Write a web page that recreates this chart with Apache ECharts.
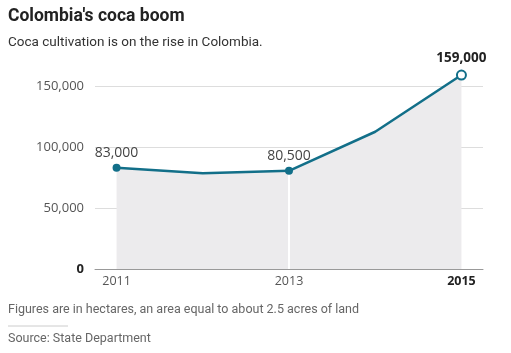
<!DOCTYPE html>
<html>
<head>
<meta charset="utf-8">
<script src="https://cdn.jsdelivr.net/npm/echarts@6/dist/echarts.min.js"></script>
<style>
  html, body { margin: 0; padding: 0; background: #fff; }
  #chart { width: 511px; height: 353px; }
</style>
</head>
<body>
<div id="chart"></div>
<script>
// 数据
const years = [2011, 2012, 2013, 2014, 2015];
const hectares = [83000, 78500, 80500, 112500, 159000];
const labelledYears = [2011, 2013, 2015];

const teal = '#126f89';
const font = 'Roboto, "Liberation Sans", sans-serif';
const numFont = '"Open Sans", Roboto, sans-serif';

let chart = echarts.init(document.getElementById('chart'));

function fmt(v) {
    return v.toLocaleString('en-US');
}

let points = years.map((y, i) => [y, hectares[i]]);

// 折线数据，只给标注年份加圆点和数值
let lineData = years.map((y, i) => {
    let item = { value: [y, hectares[i]] };
    let isLast = i === years.length - 1;
    if (labelledYears.indexOf(y) >= 0) {
        item.symbolSize = isLast ? 9 : 8;
        item.itemStyle = isLast
            ? { color: '#fff', borderColor: teal, borderWidth: 2 }
            : { color: teal, borderColor: teal, borderWidth: 0 };
        item.label = {
            show: true,
            position: 'top',
            distance: 4,
            formatter: fmt(hectares[i]),
            fontSize: isLast ? 13.5 : 14,
            fontFamily: numFont,
            fontWeight: isLast ? 'bold' : 'normal',
            color: isLast ? '#222' : '#444'
        };
    } else {
        item.symbolSize = 0;
    }
    return item;
});

// 2013 白色竖线
let i2013 = years.indexOf(2013);
let dropLine = [[2013, 0], [2013, hectares[i2013]]];

let option = {
    animation: false,
    grid: { left: 95, right: 28, top: 86, bottom: 84 },
    graphic: [
        { type: 'text', left: 8, top: 8, style: { text: "Colombia's coca boom", font: 'bold 17.5px ' + font, fill: '#222' } },
        { type: 'text', left: 8, top: 36, style: { text: 'Coca cultivation is on the rise in Colombia.', font: '13.5px ' + font, fill: '#333' } },
        { type: 'text', left: 8, top: 303, style: { text: 'Figures are in hectares, an area equal to about 2.5 acres of land', font: '12.5px ' + font, fill: '#666' } },
        { type: 'line', shape: { x1: 8, y1: 326, x2: 68, y2: 326 }, style: { stroke: '#ccc', lineWidth: 1 } },
        { type: 'text', left: 8, top: 332, style: { text: 'Source: State Department', font: '12.5px ' + font, fill: '#666' } }
    ],
    xAxis: {
        type: 'value',
        min: 2010.75,
        max: 2015.25,
        splitLine: { show: false },
        axisLine: { show: true, onZero: false, lineStyle: { color: '#999', width: 1 } },
        axisTick: { show: false },
        axisLabel: {
            customValues: labelledYears,
            margin: 6,
            fontSize: 12.5,
            fontFamily: numFont,
            color: '#555',
            formatter: v => v === 2015 ? '{b|' + v + '}' : String(v),
            rich: { b: { fontWeight: 'bold', color: '#222', fontSize: 12.5, fontFamily: numFont } }
        }
    },
    yAxis: {
        type: 'value',
        min: 0,
        max: 150000,
        interval: 50000,
        axisLine: { show: false },
        axisTick: { show: false },
        splitLine: { lineStyle: { color: '#ddd', width: 1 } },
        axisLabel: {
            margin: 11,
            fontSize: 13,
            fontFamily: numFont,
            color: '#555',
            formatter: v => v === 0 ? '{b|0}' : fmt(v),
            rich: { b: { fontWeight: 'bold', color: '#222', fontSize: 13, fontFamily: numFont } }
        }
    },
    series: [
        {
            // 面积
            type: 'line',
            data: points,
            clip: false,
            symbol: 'none',
            lineStyle: { width: 0 },
            areaStyle: { color: '#ecebed', opacity: 1 },
            silent: true,
            z: 1
        },
        {
            type: 'line',
            data: dropLine,
            symbol: 'none',
            lineStyle: { color: '#fff', width: 2 },
            silent: true,
            z: 2
        },
        {
            type: 'line',
            data: lineData,
            clip: false,
            symbol: 'circle',
            showSymbol: true,
            lineStyle: { color: teal, width: 2.5 },
            itemStyle: { color: teal },
            z: 3
        }
    ]
};

chart.setOption(option);

window.addEventListener('resize', () => {
    chart.resize();
});
</script>
</body>
</html>
